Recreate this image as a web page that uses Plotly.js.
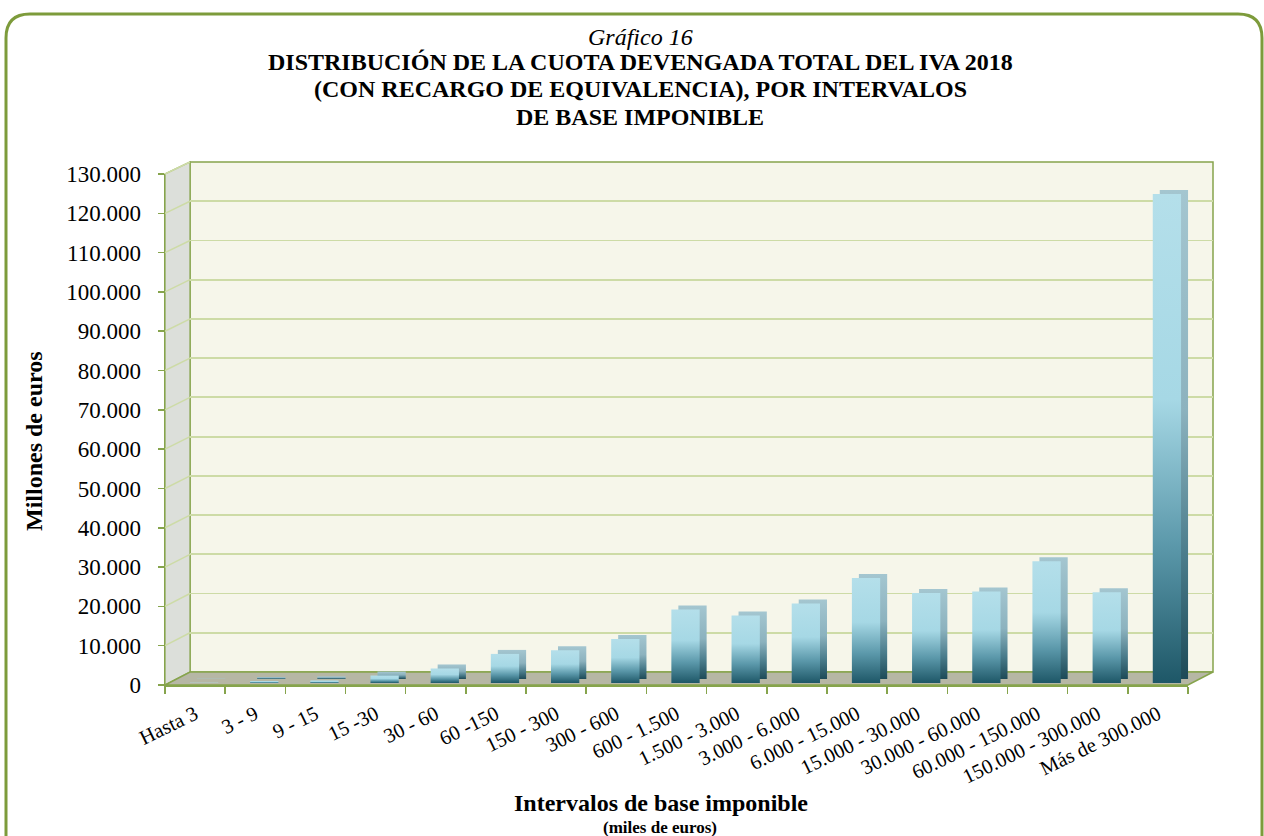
<!DOCTYPE html>
<html><head><meta charset="utf-8">
<script src="https://cdn.plot.ly/plotly-3.0.1.min.js"></script>
<style>html,body{margin:0;padding:0;background:#fff}#chart{width:1264px;height:836px}</style>
</head><body><div id="chart"></div>
<script>
const categories = ["Hasta 3","3 - 9","9 - 15","15 -30","30 - 60","60 -150","150 - 300","300 - 600","600 - 1.500","1.500 - 3.000","3.000 - 6.000","6.000 - 15.000","15.000 - 30.000","30.000 - 60.000","60.000 - 150.000","150.000 - 300.000","Más de 300.000"];
const values = [80, 500, 650, 1900, 3700, 7400, 8300, 11200, 18700, 17200, 20200, 26700, 22900, 23300, 31000, 23100, 124400];
const yTicks = [0,10000,20000,30000,40000,50000,60000,70000,80000,90000,100000,110000,120000,130000];
const titleLines = ["<i>Gráfico 16</i>","<b>DISTRIBUCIÓN DE LA CUOTA DEVENGADA TOTAL DEL IVA 2018</b>","<b>(CON RECARGO DE EQUIVALENCIA), POR INTERVALOS</b>","<b>DE BASE IMPONIBLE</b>"];
const yTitle = "Millones de euros";
const xTitle = "Intervalos de base imponible";
const xSubTitle = "(miles de euros)";

const W=1264,H=836,L=165,T=162,R=51,B=151;
const PW=W-L-R, PH=H-T-B;
const px = x => (x-L)/PW;
const py = y => (H-B-y)/PH;
const GREEN='#86a44c', GRID='#cddba6', FONT='"Liberation Serif","Times New Roman",serif';
const yMax = 130000;
const catRange = [-0.5, categories.length-0.5];
const barW = 0.47;

const data = [
  {type:'scatter', x:categories, y:values, xaxis:'x', yaxis:'y', mode:'none', hoverinfo:'skip'},
  {type:'scatter', x:[], y:[], xaxis:'x2', yaxis:'y2', mode:'none', hoverinfo:'skip'},
  {type:'bar', x:categories, y:values, xaxis:'x3', yaxis:'y3', width:barW,
   marker:{color:'#7fa7b4', line:{width:0}}, hoverinfo:'skip'},
  {type:'bar', x:categories, y:values, xaxis:'x4', yaxis:'y4', width:barW,
   marker:{color:'#8cc6d6', line:{width:0}}, hoverinfo:'skip'}
];

const hidden = {visible:false, fixedrange:true};
const shapes = [];
shapes.push({type:'rect', xref:'paper', yref:'paper', x0:px(190), x1:1, y0:py(672), y1:1, layer:'below',
  fillcolor:'#f6f6ea', line:{color:GREEN, width:1.5}});
shapes.push({type:'path', xref:'paper', yref:'paper', layer:'below',
  path:`M 0,0 L ${px(190)},${py(672)} L ${px(190)},1 L 0,${py(174)} Z`, fillcolor:'#dcdfda', line:{color:GREEN, width:1.2}});
shapes.push({type:'path', xref:'paper', yref:'paper', layer:'below',
  path:`M 0,0 L ${px(1188)},0 L 1,${py(672)} L ${px(190)},${py(672)} Z`, fillcolor:'#b6b7a5', line:{color:GREEN, width:1.5}});
yTicks.forEach(v => {
  if (v === 0) return;
  const f = py(685 - 511*v/yMax), b = py(672 - 510*v/yMax);
  shapes.push({type:'line', xref:'paper', yref:'paper', layer:'below', x0:0, y0:f, x1:px(190), y1:b, line:{color:GRID, width:1.5}});
});
const bx0=px(6), bx1=px(1262), by0=py(850), by1=py(14), rx=24/PW, ry=24/PH;
shapes.push({type:'path', xref:'paper', yref:'paper', layer:'above',
  path:`M ${bx0},${by0} L ${bx0},${by1-ry} Q ${bx0},${by1} ${bx0+rx},${by1} L ${bx1-rx},${by1} Q ${bx1},${by1} ${bx1},${by1-ry} L ${bx1},${by0}`,
  line:{color:'#7d9b3b', width:3}});

const annotations = [];
const titleY = [37, 62, 89, 117];
titleLines.forEach((t,i) => annotations.push({text:t, xref:'paper', yref:'paper', x:px(640), y:py(titleY[i]), xanchor:'center', yanchor:'middle', showarrow:false, font:{family:FONT, size:24, color:'#000'}}));
annotations.push({text:'<b>'+yTitle+'</b>', textangle:-90, xref:'paper', yref:'paper', x:px(34), y:py(441), xanchor:'center', yanchor:'middle', showarrow:false, font:{family:FONT, size:24, color:'#000'}});
annotations.push({text:'<b>'+xTitle+'</b>', xref:'paper', yref:'paper', x:px(661), y:py(803), xanchor:'center', yanchor:'middle', showarrow:false, font:{family:FONT, size:24, color:'#000'}});
annotations.push({text:'<b>'+xSubTitle+'</b>', xref:'paper', yref:'paper', x:px(660), y:py(827), xanchor:'center', yanchor:'middle', showarrow:false, font:{family:FONT, size:17, color:'#000'}});

const layout = {
  width:W, height:H, margin:{l:L, r:R, t:T, b:B}, paper_bgcolor:'#fff', plot_bgcolor:'rgba(0,0,0,0)',
  showlegend:false, separators:',.', barmode:'overlay',
  xaxis:{domain:[0, px(1188)], anchor:'y', type:'category', categoryorder:'array', categoryarray:categories, range:catRange,
    tickangle:-26, tickson:'boundaries', ticks:'outside', ticklen:7, tickwidth:1.5, tickcolor:GREEN, ticklabelstandoff:8,
    showline:true, linecolor:GREEN, linewidth:1.5, showgrid:false, zeroline:false, fixedrange:true,
    tickfont:{family:FONT, size:20.5, color:'#000'}},
  yaxis:{domain:[0, py(174)], anchor:'x', range:[0,yMax], tickvals:yTicks, tickformat:',d',
    ticks:'outside', ticklen:6, tickwidth:1.5, tickcolor:GREEN, ticklabelstandoff:12,
    showline:true, linecolor:GREEN, linewidth:1.5, showgrid:false, zeroline:false, fixedrange:true,
    tickfont:{family:FONT, size:23, color:'#000'}},
  xaxis2:Object.assign({domain:[px(190),1], anchor:'y2', range:[0,1]}, hidden),
  yaxis2:{domain:[py(672),1], anchor:'x2', range:[0,yMax], tickvals:yTicks, showgrid:true, gridcolor:GRID, gridwidth:1.8,
    showticklabels:false, ticks:'', showline:false, zeroline:false, fixedrange:true},
  xaxis3:Object.assign({domain:[px(181), px(1204)], anchor:'y3', type:'category', categoryorder:'array', categoryarray:categories, range:catRange}, hidden),
  yaxis3:Object.assign({domain:[py(679), py(679-511)], anchor:'x3', range:[0,yMax]}, hidden),
  xaxis4:Object.assign({domain:[px(174), px(1197)], anchor:'y4', type:'category', categoryorder:'array', categoryarray:categories, range:catRange}, hidden),
  yaxis4:Object.assign({domain:[py(683), py(683-511)], anchor:'x4', range:[0,yMax]}, hidden),
  shapes:shapes, annotations:annotations
};

const gd = document.getElementById('chart');
Plotly.newPlot(gd, data, layout, {staticPlot:true, displayModeBar:false}).then(() => {
  const ns='http://www.w3.org/2000/svg';
  const svg = gd.querySelector('svg.main-svg');
  let defs = svg.querySelector('defs');
  if (!defs) { defs = document.createElementNS(ns,'defs'); svg.insertBefore(defs, svg.firstChild); }
  function addGrad(id, stops) {
    const g = document.createElementNS(ns,'linearGradient');
    g.setAttribute('id', id);
    g.setAttribute('x1','0'); g.setAttribute('y1','0'); g.setAttribute('x2','0'); g.setAttribute('y2','1');
    stops.forEach(([o,c]) => { const s=document.createElementNS(ns,'stop'); s.setAttribute('offset',o); s.setAttribute('stop-color',c); g.appendChild(s); });
    defs.appendChild(g);
  }
  addGrad('gradFront', [[0,'#b4dfea'],[0.42,'#a6d8e5'],[0.72,'#5b98aa'],[1,'#1e5767']]);
  addGrad('gradBack', [[0,'#a4c6d0'],[0.45,'#8cb2be'],[0.75,'#4a7c8b'],[1,'#1d4a57']]);
  gd.querySelectorAll('.subplot.x4y4 .bars path').forEach(p => { p.style.fill='url(#gradFront)'; });
  gd.querySelectorAll('.subplot.x3y3 .bars path').forEach(p => { p.style.fill='url(#gradBack)'; });
});
</script>
</body></html>
